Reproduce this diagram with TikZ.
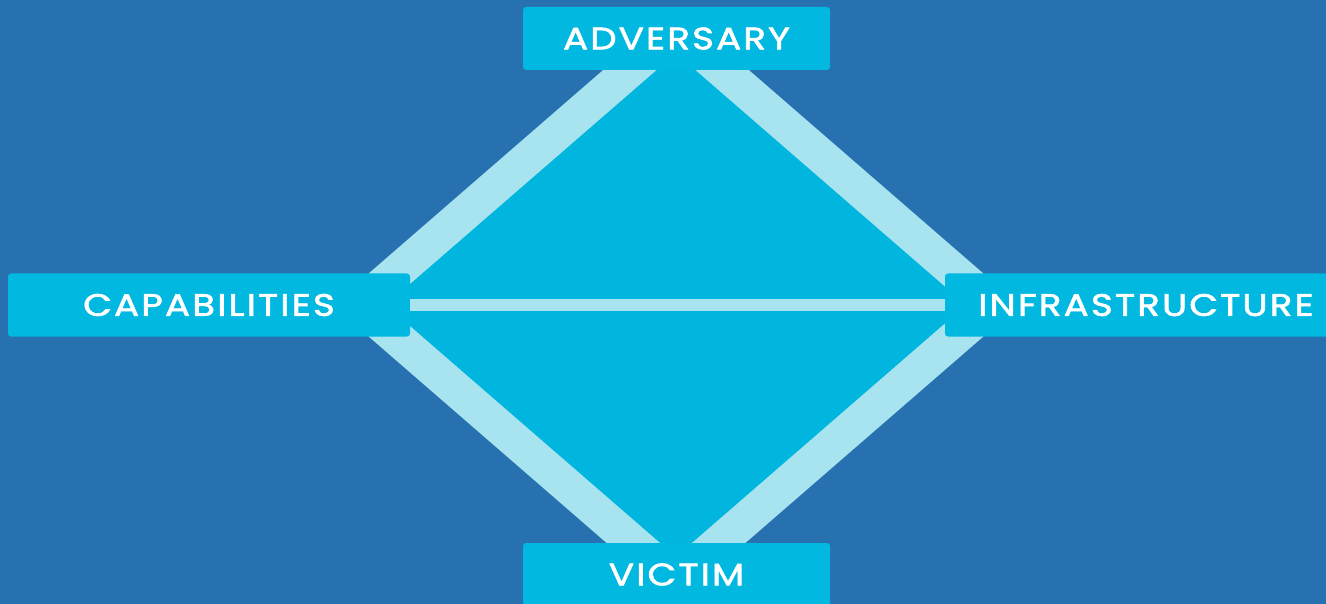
\documentclass[tikz,border=0pt]{standalone}
\usepackage{fontspec}
\newfontfamily\lblfont[LetterSpace=7,FakeStretch=1.2,FakeBold=2]{Poppins}
\definecolor{bgblue}{HTML}{2771B1}
\definecolor{band}{HTML}{A7E4F0}
\definecolor{cyanfill}{HTML}{00B6DE}
\definecolor{boxcyan}{HTML}{00B8E0}
\tikzset{
  lbl/.style={fill=boxcyan, rounded corners=3pt, text=white, font=\lblfont\fontsize{31}{36}\selectfont, inner sep=0pt, minimum height=63pt, align=center},
  bandline/.style={draw=band, line width=35pt, line join=miter},
  midline/.style={draw=band, line width=12pt}
}
\begin{document}
\begin{tikzpicture}[x=1pt,y=-1pt]
\useasboundingbox (0,0) rectangle (1326,604);
\clip (0,0) rectangle (1326,604);
\fill[bgblue] (0,0) rectangle (1326,604);
\coordinate (t) at (676,30);
\coordinate (l) at (359,305);
\coordinate (r) at (993,305);
\coordinate (b) at (676,580);
\fill[cyanfill] (t) -- (r) -- (b) -- (l) -- cycle;
\draw[bandline] (t) -- (r) -- (b) -- (l) -- cycle;
\node[lbl, minimum width=307pt] (adv) at (676.5,38.5) {ADVERSARY};
\node[lbl, minimum width=402pt] (cap) at (209,305) {CAPABILITIES};
\node[lbl, minimum width=402pt] (inf) at (1146,305) {INFRASTRUCTURE};
\node[lbl, minimum width=307pt] (vic) at (676.5,574.5) {VICTIM};
\draw[midline] (cap.east) -- (inf.west);
\end{tikzpicture}
\end{document}
